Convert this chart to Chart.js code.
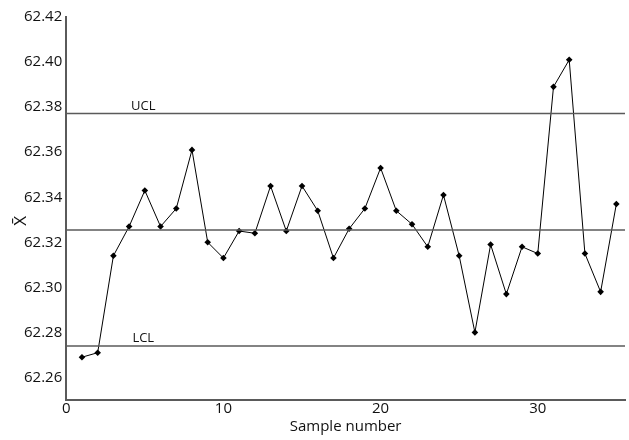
<!DOCTYPE html>
<html>
<head>
<meta charset="utf-8">
<script src="https://cdn.jsdelivr.net/npm/chart.js@4.4.0/dist/chart.umd.min.js"></script>
<style>
  html, body { margin: 0; padding: 0; background: #fff; }
  #wrap { width: 629px; height: 440px; position: relative; }
</style>
</head>
<body>
<div id="wrap"><canvas id="xbarChart"></canvas></div>
<script>
// sample means, samples 1..35
const samples = [1, 2, 3, 4, 5, 6, 7, 8, 9, 10, 11, 12, 13, 14, 15, 16, 17, 18,
  19, 20, 21, 22, 23, 24, 25, 26, 27, 28, 29, 30, 31, 32, 33, 34, 35];
const means = [62.269, 62.271, 62.314, 62.327, 62.343, 62.327, 62.335, 62.361,
  62.320, 62.313, 62.325, 62.324, 62.345, 62.325, 62.345, 62.334, 62.313, 62.326,
  62.335, 62.353, 62.334, 62.328, 62.318, 62.341, 62.314, 62.280, 62.319, 62.297,
  62.318, 62.315, 62.389, 62.401, 62.315, 62.298, 62.337];

const ucl = 62.3772;
const centerLine = 62.3255;
const lcl = 62.274;

const xTicks = [0, 10, 20, 30];
const yTicks = [62.26, 62.28, 62.30, 62.32, 62.34, 62.36, 62.38, 62.40, 62.42];
const xRange = [0, 35.55];
const yRange = [62.25, 62.42];

const limitLabels = [
  { text: 'UCL', x: 4.9, y: ucl },
  { text: 'LCL', x: 4.9, y: lcl }
];
const yTitle = 'X\u0304';

const fontFamily = "'Open Sans', 'Noto Sans', sans-serif";
const gray = '#5a5a5a';
const textColor = '#111';

const hLine = (y) => [{ x: xRange[0], y: y }, { x: xRange[1], y: y }];

// text labels above the control limits + the rotated x-bar axis title
const annotationPlugin = {
  id: 'chartText',
  afterDatasetsDraw(chart) {
    const { ctx, scales } = chart;
    ctx.save();
    ctx.font = '13px ' + fontFamily;
    ctx.fillStyle = textColor;
    ctx.textAlign = 'center';
    ctx.textBaseline = 'bottom';
    limitLabels.forEach(l => {
      ctx.fillText(l.text, scales.x.getPixelForValue(l.x), scales.y.getPixelForValue(l.y) - 1);
    });
    // y title sits between the tick labels, like the original
    ctx.translate(21, scales.y.getPixelForValue(62.3295));
    ctx.rotate(-Math.PI / 2);
    ctx.font = '17px ' + fontFamily;
    ctx.textBaseline = 'middle';
    ctx.fillText(yTitle, 0, 0);
    ctx.restore();
  }
};

const ctx = document.getElementById('xbarChart');
new Chart(ctx, {
  type: 'scatter',
  data: {
    datasets: [
      {
        label: 'UCL',
        data: hLine(ucl),
        showLine: true,
        borderColor: gray,
        borderWidth: 1.5,
        pointRadius: 0
      },
      {
        label: 'Center',
        data: hLine(centerLine),
        showLine: true,
        borderColor: gray,
        borderWidth: 1.5,
        pointRadius: 0
      },
      {
        label: 'LCL',
        data: hLine(lcl),
        showLine: true,
        borderColor: gray,
        borderWidth: 1.5,
        pointRadius: 0
      },
      {
        label: 'Mean',
        data: samples.map((s, i) => ({ x: s, y: means[i] })),
        showLine: true,
        borderColor: '#000',
        borderWidth: 1,
        pointStyle: 'rectRot',
        pointRadius: 3.3,
        pointBackgroundColor: '#000',
        pointBorderColor: '#000',
        pointBorderWidth: 0
      }
    ]
  },
  options: {
    responsive: true,
    maintainAspectRatio: false,
    animation: false,
    layout: { padding: { top: 17, right: 0, left: 20, bottom: 4 } },
    plugins: {
      legend: { display: false },
      tooltip: { enabled: false }
    },
    scales: {
      x: {
        type: 'linear',
        min: xRange[0],
        max: xRange[1],
        afterBuildTicks: axis => { axis.ticks = xTicks.map(v => ({ value: v })); },
        grid: { display: false, drawTicks: false },
        border: { display: true, color: gray, width: 2 },
        ticks: {
          color: textColor,
          font: { size: 15, family: fontFamily },
          padding: 0,
          maxRotation: 0
        },
        title: {
          display: true,
          text: 'Sample number',
          color: textColor,
          font: { size: 15, family: fontFamily },
          padding: { top: 0, bottom: 0 }
        }
      },
      y: {
        type: 'linear',
        min: yRange[0],
        max: yRange[1],
        afterBuildTicks: axis => { axis.ticks = yTicks.map(v => ({ value: v })); },
        grid: { display: false, drawTicks: false },
        border: { display: true, color: gray, width: 2 },
        ticks: {
          color: textColor,
          font: { size: 15, family: fontFamily },
          padding: 4,
          callback: value => value.toFixed(2)
        }
      }
    }
  },
  plugins: [annotationPlugin]
});
</script>
</body>
</html>
